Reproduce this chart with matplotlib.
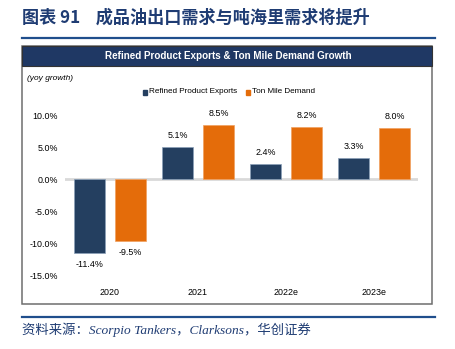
import numpy as np
import matplotlib.pyplot as plt
from matplotlib.patches import Rectangle
from matplotlib.lines import Line2D

plt.rcParams['font.family'] = ['Liberation Sans', 'DejaVu Sans']

categories = ["2020", "2021", "2022e", "2023e"]
exports = [-11.4, 5.1, 2.4, 3.3]
ton_mile = [-9.5, 8.5, 8.2, 8.0]
yticks = [-15, -10, -5, 0, 5, 10]

navy = "#243f60"
orange = "#e46c0a"
title_blue = "#1f3c73"

W, H = 456, 349
fig = plt.figure(figsize=(W / 100, H / 100), dpi=100)


def fx(px):
    return px / W


def fy(py):
    return 1 - py / H


# title and rules
fig.text(fx(22), fy(18), "图表 91    成品油出口需求与吨海里需求将提升", color=title_blue,
         fontsize=12.3, fontweight="bold", va="center", ha="left",
         family=["Noto Sans CJK SC", "DejaVu Sans"])
fig.add_artist(Line2D([fx(22), fx(435)], [fy(37.5), fy(37.5)], color="#1f4e8c", lw=1.6))
fig.add_artist(Line2D([fx(22), fx(435)], [fy(316.5), fy(316.5)], color="#1f4e8c", lw=1.6))

# chart frame + header band
fig.add_artist(Rectangle((fx(22), fy(304)), fx(432) - fx(22), fy(46) - fy(304),
                         fill=False, edgecolor="#6e6e6e", lw=1.1))
fig.add_artist(Rectangle((fx(22), fy(66)), fx(432) - fx(22), fy(46) - fy(66),
                         facecolor="#1f3864", edgecolor="#333333", lw=0.8))
fig.text(fx(228), fy(56), "Refined Product Exports & Ton Mile Demand Growth", color="white",
         fontsize=7.1, fontweight="bold", ha="center", va="center")
fig.text(fx(27), fy(78), "(yoy growth)", fontsize=6, style="italic", ha="left", va="center")

# legend
fig.add_artist(Rectangle((fx(143), fy(94.5)), fx(4.5), fy(90) - fy(94.5), color=navy))
fig.text(fx(149), fy(92), "Refined Product Exports", fontsize=5.9, ha="left", va="center")
fig.add_artist(Rectangle((fx(246), fy(94.5)), fx(4.5), fy(90) - fy(94.5), color=orange))
fig.text(fx(252), fy(92), "Ton Mile Demand", fontsize=5.9, ha="left", va="center")

# plot area
ax = fig.add_axes([fx(65), fy(279.2), fx(418) - fx(65), fy(108.6) - fy(279.2)])
x = np.arange(len(categories))
w = 0.36
off = 0.232
b1 = ax.bar(x - off, exports, w, color=navy, edgecolor="#8aa0b8", lw=0.5, zorder=2)
b2 = ax.bar(x + off, ton_mile, w, color=orange, edgecolor="#f0a060", lw=0.5, zorder=2)
ax.axhline(0, color="#d9d9d9", lw=2, zorder=1)

for bars, vals in [(b1, exports), (b2, ton_mile)]:
    for r, v in zip(bars, vals):
        cx = r.get_x() + r.get_width() / 2
        if v >= 0:
            ax.annotate(f"{v:.1f}%", (cx, v), xytext=(0, 5), textcoords="offset points",
                        ha="center", va="bottom", fontsize=6.4)
        else:
            ax.annotate(f"{v:.1f}%", (cx, v), xytext=(0, -5), textcoords="offset points",
                        ha="center", va="top", fontsize=6.4)

ax.set_xlim(-0.511, 3.5)
ax.set_ylim(-15.5, 11)
ax.set_yticks(yticks)
ax.set_yticklabels([f"{t:.1f}%" for t in yticks], fontsize=6.4)
ax.set_xticks(x)
ax.set_xticklabels(categories, fontsize=6.4)
ax.tick_params(length=0, pad=5)
ax.tick_params(axis="x", pad=6)
for s in ax.spines.values():
    s.set_visible(False)
ax.patch.set_alpha(0)

# source
fig.text(fx(22), fy(330), "资料来源：Scorpio Tankers，Clarksons，华创证券", color="#1f3c73",
         fontsize=9.6, style="italic", ha="left", va="center",
         family=["Liberation Serif", "Noto Sans CJK SC"])

fig.savefig("out.png", dpi=100)
